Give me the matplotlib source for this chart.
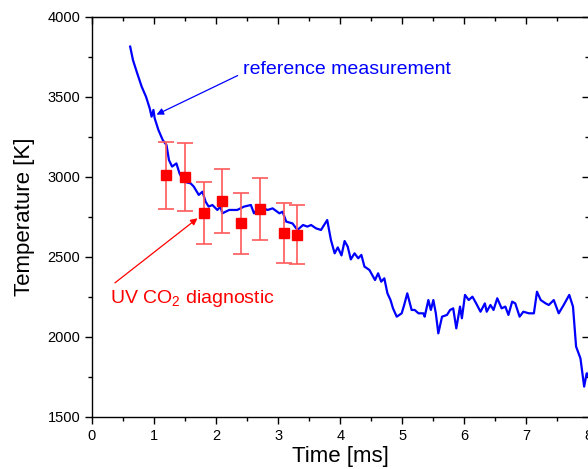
import numpy as np
import matplotlib
matplotlib.use("Agg")
import matplotlib.pyplot as plt
from matplotlib.ticker import MultipleLocator

plt.rcParams['font.family'] = ['Liberation Sans', 'DejaVu Sans']
plt.rcParams['mathtext.fontset'] = 'custom'
plt.rcParams['mathtext.rm'] = 'Liberation Sans'
plt.rcParams['mathtext.it'] = 'Liberation Sans'

ref_t = [0.615, 0.66, 0.72, 0.80, 0.87, 0.93, 0.96, 0.99, 1.01, 1.07, 1.14, 1.20,
         1.24, 1.29, 1.36, 1.41, 1.48, 1.59, 1.64, 1.72, 1.78, 1.83, 1.88, 1.94,
         2.02, 2.07, 2.10, 2.21, 2.34, 2.45, 2.56, 2.61, 2.69, 2.83, 2.91, 3.02,
         3.07, 3.13, 3.23, 3.31, 3.40, 3.47, 3.53, 3.61, 3.69, 3.79, 3.85, 3.91,
         3.96, 4.02, 4.07, 4.12, 4.17, 4.23, 4.29, 4.34, 4.39, 4.47, 4.56, 4.61,
         4.66, 4.71, 4.76, 4.81, 4.85, 4.91, 4.99, 5.03, 5.08, 5.15, 5.20, 5.26,
         5.34, 5.36, 5.42, 5.46, 5.50, 5.54, 5.58, 5.64, 5.72, 5.77, 5.82, 5.87,
         5.93, 5.96, 6.01, 6.07, 6.13, 6.19, 6.26, 6.33, 6.36, 6.42, 6.47, 6.53,
         6.60, 6.66, 6.71, 6.77, 6.82, 6.89, 6.95, 7.04, 7.12, 7.17, 7.23, 7.31,
         7.36, 7.44, 7.52, 7.60, 7.69, 7.75, 7.80, 7.87, 7.93, 7.97, 8.00, 8.03]
ref_T = [3815, 3731, 3658, 3565, 3502, 3429, 3377, 3419, 3367, 3294, 3231, 3200,
         3106, 3065, 3085, 3023, 2971, 2960, 2940, 2888, 2908, 2846, 2815, 2825,
         2794, 2815, 2773, 2794, 2794, 2815, 2825, 2773, 2815, 2794, 2804, 2773,
         2783, 2721, 2710, 2669, 2700, 2690, 2700, 2679, 2669, 2731, 2606, 2523,
         2560, 2510, 2600, 2565, 2485, 2523, 2492, 2513, 2440, 2419, 2356, 2398,
         2346, 2367, 2273, 2231, 2179, 2127, 2148, 2200, 2273, 2169, 2169, 2148,
         2148, 2127, 2231, 2169, 2231, 2148, 2023, 2127, 2138, 2169, 2179, 2054,
         2190, 2117, 2263, 2231, 2252, 2210, 2158, 2210, 2158, 2200, 2169, 2242,
         2179, 2190, 2138, 2221, 2210, 2127, 2158, 2148, 2148, 2283, 2231, 2210,
         2200, 2231, 2148, 2200, 2263, 2190, 1940, 1867, 1690, 1773, 1752, 1877]

# UV CO2 diagnostic points
uv_t = [1.2, 1.5, 1.8, 2.1, 2.4, 2.7, 3.1, 3.3]
uv_T = [3010, 3000, 2775, 2850, 2710, 2800, 2650, 2640]
uv_err = [210, 210, 195, 200, 190, 195, 190, 185]

fig = plt.figure(figsize=(5.88, 4.69), dpi=100)
ax = fig.add_axes([92 / 588, 52 / 469, 496.5 / 588, 400 / 469])

ax.plot(ref_t, ref_T, color='#0000ff', lw=1.6, zorder=2)
ax.errorbar(uv_t, uv_T, yerr=uv_err, fmt='s', color='#ff0000', ms=7,
            ecolor='#ff5a5a', elinewidth=1.2, capsize=5.5, capthick=1.2, zorder=3)

ax.annotate('reference measurement', xy=(1.04, 3390), xytext=(2.43, 3669),
            color='#0000ff', fontsize=14, va='center', ha='left',
            arrowprops=dict(arrowstyle='-|>', color='#0000ff', lw=0.9,
                            mutation_scale=10, shrinkA=0, shrinkB=0,
                            relpos=(-0.025, 0.17)))
ax.annotate('UV CO$_{2}$ diagnostic', xy=(1.70, 2742), xytext=(0.29, 2240),
            color='#ff0000', fontsize=14, va='center', ha='left',
            arrowprops=dict(arrowstyle='-|>', color='#ff0000', lw=0.9,
                            mutation_scale=10, shrinkA=0, shrinkB=0,
                            relpos=(0.03, 1.25)))

ax.set_xlim(0, 8)
ax.set_ylim(1500, 4000)
ax.xaxis.set_major_locator(MultipleLocator(1))
ax.xaxis.set_minor_locator(MultipleLocator(0.5))
ax.yaxis.set_major_locator(MultipleLocator(500))
ax.yaxis.set_minor_locator(MultipleLocator(250))

ax.tick_params(which='both', direction='out', top=False, right=False,
               labelsize=10.5, width=1)
ax.tick_params(which='major', length=5)
ax.tick_params(which='minor', length=3)

# inward ticks on top and right
axt = ax.secondary_xaxis('top')
axt.xaxis.set_major_locator(MultipleLocator(1))
axt.xaxis.set_minor_locator(MultipleLocator(0.5))
axt.tick_params(which='both', direction='in', labeltop=False, width=1)
axt.tick_params(which='major', length=5)
axt.tick_params(which='minor', length=3)
axr = ax.secondary_yaxis('right')
axr.yaxis.set_major_locator(MultipleLocator(500))
axr.yaxis.set_minor_locator(MultipleLocator(250))
axr.tick_params(which='both', direction='in', labelright=False, width=1)
axr.tick_params(which='major', length=5)
axr.tick_params(which='minor', length=3)

for s in ax.spines.values():
    s.set_linewidth(1)

ax.set_xlabel('Time [ms]', fontsize=16, labelpad=2)
ax.set_ylabel('Temperature [K]', fontsize=16, labelpad=9)

fig.savefig('out.png', dpi=100)
